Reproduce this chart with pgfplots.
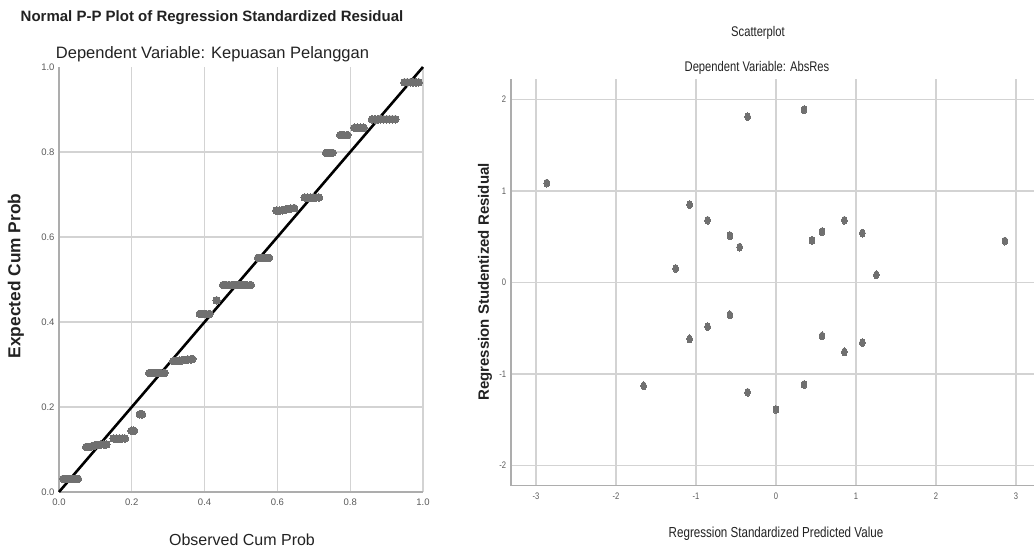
\documentclass[border=0pt]{standalone}
\usepackage{pgfplots}
\pgfplotsset{compat=1.18}
\usepackage{fontspec}
\setmainfont{Liberation Sans}
\newfontfamily\narrowfont[FakeStretch=0.8]{Liberation Sans}
\definecolor{gridc}{HTML}{D3D3D3}
\definecolor{axc}{HTML}{ADADAD}
\definecolor{dotc}{HTML}{707070}
\definecolor{tickc}{HTML}{5A5A5A}
\definecolor{txtc}{HTML}{222222}

\begin{document}
\begin{tikzpicture}
\path[use as bounding box] (0pt,0pt) rectangle (1034pt,548pt);

% ---------------- Left: Normal P-P plot ----------------
\begin{axis}[
  at={(59pt,56pt)}, anchor=origin, scale only axis,
  width=364pt, height=425pt,
  xmin=0, xmax=1, ymin=0, ymax=1,
  axis lines=left, axis line style={-, draw=axc, line width=1.6pt},
  xtick={0,0.2,0.4,0.6,0.8,1}, xticklabels={0.0,0.2,0.4,0.6,0.8,1.0},
  ytick={0,0.2,0.4,0.6,0.8}, yticklabels={0.0,0.2,0.4,0.6,0.8},
  extra y ticks={1}, extra y tick labels={1.0}, extra y tick style={grid=none},
  major tick length=0pt,
  grid=major, major grid style={draw=gridc, line width=1.3pt},
  tick label style={font=\fontsize{9.5}{9.5}\selectfont, text=tickc},
  xticklabel style={yshift=-3pt},
  yticklabel style={xshift=-1pt},
  clip=false,
]
\addplot[only marks, mark=*, mark size=3.8pt, mark options={fill=dotc, draw=dotc, line width=0pt}] coordinates {
(0.012,0.031)(0.020,0.031)(0.028,0.031)(0.036,0.031)(0.044,0.031)(0.052,0.031)
(0.075,0.106)(0.083,0.106)(0.091,0.108)(0.099,0.110)(0.107,0.111)(0.115,0.112)(0.123,0.112)(0.130,0.112)
(0.150,0.126)(0.158,0.126)(0.166,0.126)(0.174,0.126)(0.181,0.126)
(0.199,0.144)(0.206,0.144)
(0.222,0.183)(0.228,0.183)
(0.248,0.280)(0.256,0.280)(0.264,0.280)(0.272,0.280)(0.280,0.280)(0.290,0.280)
(0.314,0.308)(0.322,0.309)(0.330,0.309)(0.338,0.310)(0.346,0.311)(0.354,0.312)(0.362,0.312)(0.366,0.313)
(0.387,0.419)(0.395,0.419)(0.403,0.419)(0.413,0.419)
(0.433,0.451)
(0.451,0.487)(0.459,0.487)(0.467,0.487)(0.475,0.487)(0.483,0.487)(0.491,0.487)(0.499,0.487)(0.507,0.487)(0.515,0.487)(0.527,0.487)
(0.547,0.551)(0.555,0.551)(0.563,0.551)(0.571,0.551)(0.577,0.551)
(0.597,0.662)(0.605,0.662)(0.613,0.663)(0.621,0.664)(0.629,0.666)(0.637,0.667)(0.646,0.668)
(0.675,0.693)(0.683,0.693)(0.691,0.693)(0.699,0.693)(0.707,0.693)(0.714,0.693)
(0.734,0.798)(0.742,0.798)(0.751,0.798)
(0.773,0.840)(0.782,0.840)(0.792,0.840)
(0.812,0.857)(0.820,0.857)(0.828,0.857)(0.837,0.857)
(0.860,0.877)(0.868,0.877)(0.876,0.877)(0.884,0.877)(0.892,0.877)(0.900,0.877)(0.908,0.877)(0.916,0.877)(0.924,0.877)
(0.949,0.964)(0.957,0.964)(0.965,0.964)(0.973,0.964)(0.981,0.964)(0.988,0.964)
};
\addplot[no marks, black, line width=2.6pt] coordinates {(0,0) (1,1)};
\end{axis}

\node[anchor=base, font=\fontsize{15}{15}\selectfont\bfseries, text=txtc] at (212pt,526pt) {Normal P-P Plot of Regression Standardized Residual};
\node[anchor=base, font=\fontsize{16.5}{16.5}\selectfont, text=txtc] at (212.5pt,489pt) {Dependent Variable: Kepuasan Pelanggan};
\node[anchor=base, font=\fontsize{16}{16}\selectfont, text=txtc] at (242pt,2pt) {Observed Cum Prob};
\node[rotate=90, font=\fontsize{17.3}{17.3}\selectfont\bfseries, text=txtc] at (16pt,272pt) {Expected Cum Prob};

% ---------------- Right: Scatterplot ----------------
\begin{axis}[
  at={(510.7pt,62.3pt)}, anchor=south west, scale only axis,
  width=523.3pt, height=406.2pt,
  xmin=-3.316, xmax=3.225, ymin=-2.22, ymax=2.22,
  axis lines=left, axis line style={-, draw=axc, line width=1.6pt},
  xtick={-3,-2,-1,0,1,2,3}, xticklabels={-3,-2,-1,0,1,2,3},
  ytick={-2,-1,0,1,2}, yticklabels={-2,-1,0,1,2},
  major tick length=0pt,
  grid=major, major grid style={draw=gridc, line width=1.3pt},
  tick label style={font=\narrowfont\fontsize{9.5}{9.5}\selectfont, text=tickc},
  xticklabel style={yshift=-4pt},
  yticklabel style={xshift=-1pt},
  clip=false,
]
\addplot[only marks, mark=*, mark size=4pt, mark options={fill=dotc, draw=dotc, line width=0pt, xscale=0.72}] coordinates {
(-2.865,1.088)(-0.355,1.813)(0.351,1.890)(-1.080,0.853)(-0.855,0.681)(-0.576,0.513)
(-0.454,0.388)(-1.255,0.154)(0.450,0.462)(0.576,0.557)(0.855,0.681)(1.080,0.542)
(1.255,0.084)(2.861,0.454)
(-1.080,-0.616)(-0.855,-0.481)(-0.576,-0.353)(0.576,-0.583)(0.855,-0.758)(1.080,-0.656)
(-1.655,-1.129)(-0.355,-1.199)(0.351,-1.115)(0.000,-1.388)
};
\end{axis}

\node[anchor=base, font=\narrowfont\fontsize{14}{14}\selectfont, text=txtc] at (758pt,511pt) {Scatterplot};
\node[anchor=base, font=\narrowfont\fontsize{14}{14}\selectfont, text=txtc] at (757pt,476pt) {Dependent Variable: AbsRes};
\node[anchor=base, font=\narrowfont\fontsize{14.5}{14.5}\selectfont, text=txtc] at (776pt,10pt) {Regression Standardized Predicted Value};
\node[rotate=90, font=\fontsize{15}{15}\selectfont\bfseries, text=txtc] at (485pt,266pt) {Regression Studentized Residual};
\end{tikzpicture}
\end{document}
